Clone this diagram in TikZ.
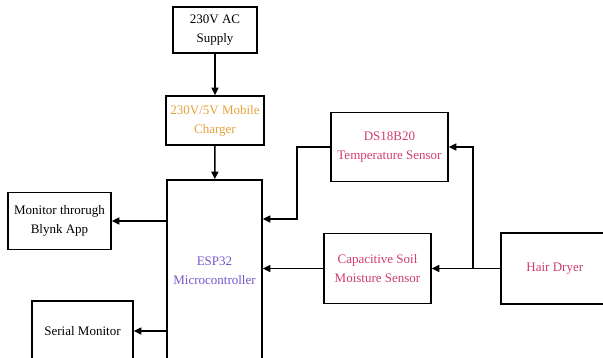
\documentclass[tikz,border=0pt]{standalone}
\usepackage{fontspec}
\setmainfont{Liberation Serif}
\usepackage{tikz}
\usetikzlibrary{arrows.meta,positioning,calc}
\definecolor{amber}{HTML}{E8A23E}
\definecolor{rose}{HTML}{CF3F6B}
\definecolor{espc}{HTML}{7658C8}
\tikzset{
  box/.style={draw=black,line width=1.6pt,fill=white,align=center,inner sep=2pt,
    font=\fontsize{13}{19}\selectfont},
  boxa/.style={box,text=amber},
  boxr/.style={box,text=rose},
  boxe/.style={box,text=espc},
  flow/.style={-{Triangle[length=7.5pt,width=7pt]},line width=1.4pt,draw=black},
}
\begin{document}
\begin{tikzpicture}[x=1pt,y=-1pt]
  \useasboundingbox (0,0) rectangle (603,358);
  \clip (0,0) rectangle (603,358);
  % power chain (top)
  \node[box,minimum width=84pt,minimum height=46pt] (supply) at (215,30){230V AC\\Supply};
  \node[boxa,minimum width=98pt,minimum height=49pt] (charger) at (215,120.5){230V/5V Mobile\\Charger};
  % controller and outputs (left)
  \node[boxe,minimum width=95pt,minimum height=182pt] (esp) at (214.5,271){ESP32\\Microcontroller};
  \node[box,minimum width=103pt,minimum height=57pt] (blynk) at (59.5,221){Monitor throrugh\\Blynk App};
  \node[box,minimum width=101pt,minimum height=60pt] (serial) at (82.5,331){Serial Monitor};
  % sensors (right)
  \node[boxr,minimum width=117pt,minimum height=69pt] (temp) at (389.5,147){DS18B20\\Temperature Sensor};
  \node[boxr,minimum width=107pt,minimum height=70pt] (soil) at (377.5,268.5){Capacitive Soil\\Moisture Sensor};
  \node[boxr,minimum width=108pt,minimum height=71pt,anchor=west] (dryer) at (500,268.5){Hair Dryer};
  \coordinate (tbend) at (297,219);
  \coordinate (split) at (473,268.5);
  % connectors
  \draw[flow] (supply) -- (charger);
  \draw[flow] (charger) -- (esp);
  \draw[flow] (blynk.east -| esp.west) -- (blynk.east);
  \draw[flow] (serial.east -| esp.west) -- (serial.east);
  \draw[flow] (temp.west) -| (tbend) -- (tbend -| esp.east);
  \draw[flow] (soil.west) -- (soil.west -| esp.east);
  \draw[flow] (dryer.west) -- (soil.east);
  \draw[flow] (split) |- (temp.east);
\end{tikzpicture}
\end{document}
